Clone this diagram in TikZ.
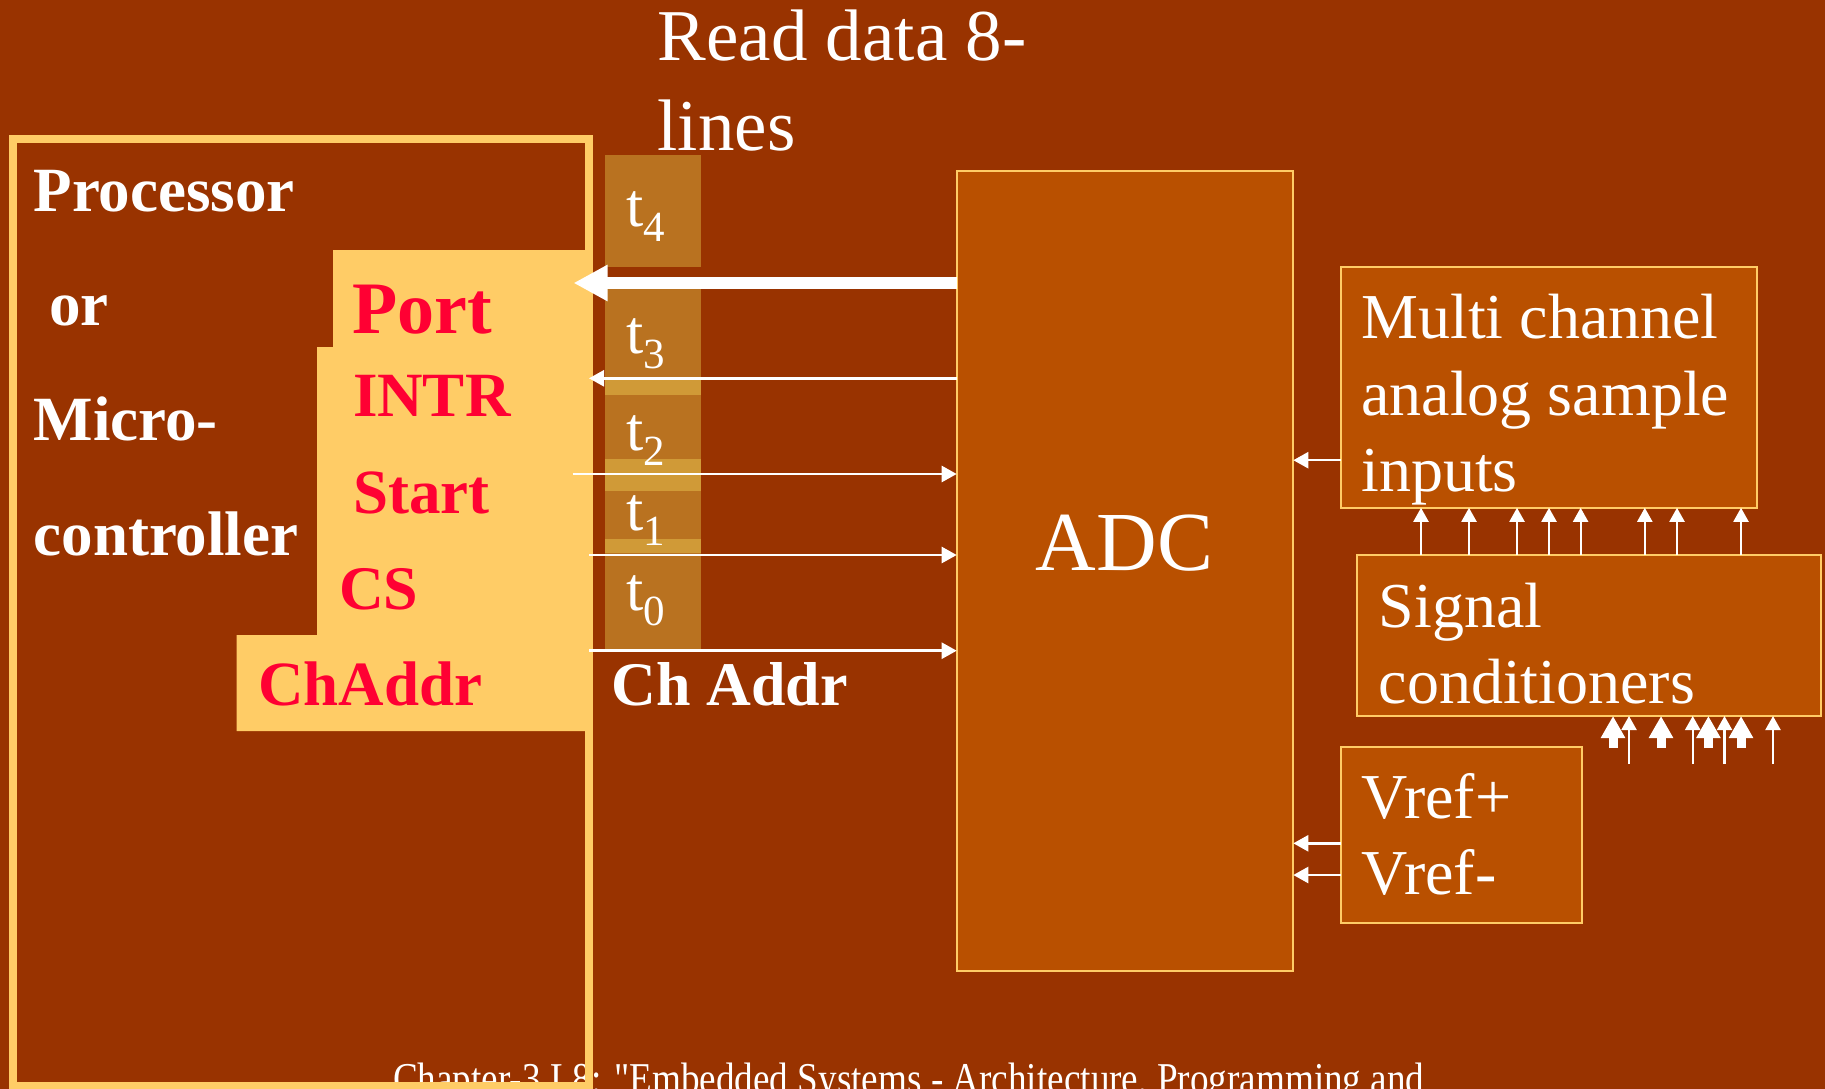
\documentclass[tikz,border=0pt]{standalone}
\usepackage{fontspec}
\setmainfont{Liberation Serif}
\newfontfamily\footfont{Liberation Serif}[Ligatures=TeXOff]
\usetikzlibrary{arrows.meta}
\definecolor{bg}{RGB}{153,51,0}
\definecolor{adcfill}{RGB}{185,80,0}
\definecolor{yel}{RGB}{255,204,102}
\definecolor{strip}{RGB}{185,114,32}
\definecolor{band}{RGB}{208,154,55}
\definecolor{redtxt}{RGB}{255,0,51}
\newcommand{\fsz}[1]{\fontsize{#1}{#1}\selectfont}
\newcommand{\tsub}[1]{{\fsz{62}t\raisebox{-15pt}{\fsz{43}#1}}}
\begin{document}
\begin{tikzpicture}[x=1pt,y=-1pt,
  txt/.style={anchor=base west, inner sep=0pt, outer sep=0pt, text=white},
  redlbl/.style={anchor=base west, inner sep=0pt, outer sep=0pt, text=redtxt},
  box/.style={draw=yel, fill=adcfill, line width=2pt, inner sep=0pt, outer sep=0pt},
  sig/.style={white, line width=2.5pt, -{Triangle[length=15pt,width=16pt]}},
  upsig/.style={white, line width=2.2pt, -{Triangle[length=14pt,width=15pt]}},
  thickup/.style={white, line width=9pt, -{Triangle[length=22pt,width=23pt]}}]
\fill[bg] (0,0) rectangle (1825,1089);
\useasboundingbox (0,0) rectangle (1825,1089);
\clip (0,0) rectangle (1825,1089);

% footer (behind frame)
\node[txt, font=\footfont\fsz{44}] (footer) at (393,1093) {\scalebox{0.845}[1]{Chapter-3 L8: "Embedded Systems - Architecture, Programming and}};

% processor frame
\draw[yel, line width=8pt] (12.7,139) rectangle (589,1086);
\fill[yel] (333,250) -- (589,250) -- (589,731) -- (236.5,731) -- (236.5,635)
  -- (317,635) -- (317,347) -- (333,347) -- cycle;

\node[txt, font=\fsz{63}\bfseries] (proc) at (33.6,211) {Processor};
\node[txt, font=\fsz{63}\bfseries] (or) at (49,325) {or};
\node[txt, font=\fsz{63}\bfseries] (micro) at (33.6,440) {Micro-};
\node[txt, font=\fsz{63}\bfseries] (ctrl) at (33.6,555) {controller};

\node[redlbl, font=\fsz{74}\bfseries] (port) at (352,333) {Port};
\node[redlbl, font=\fsz{63}\bfseries] (intr) at (353,416.5) {INTR};
\node[redlbl, font=\fsz{63}\bfseries] (start) at (353,513) {Start};
\node[redlbl, font=\fsz{62}\bfseries] (cs) at (339,609.5) {CS};
\node[redlbl, font=\fsz{63}\bfseries] (chaddr) at (258,705) {ChAddr};

% time strip
\fill[strip] (605,155) rectangle (701,266.7);
\fill[strip] (605,288.8) rectangle (701,649);
\fill[band] (605,380.4) rectangle (701,394.8);
\fill[band] (605,458.5) rectangle (701,490.5);
\fill[band] (605,538.8) rectangle (701,553.2);
\node[txt] (t4) at (626,226) {\tsub{4}};
\node[txt] (t3) at (626,353.5) {\tsub{3}};
\node[txt] (t2) at (626,450) {\tsub{2}};
\node[txt] (t1) at (626,530.8) {\tsub{1}};
\node[txt] (t0) at (626,610) {\tsub{0}};

% title
\node[txt, font=\fsz{73}] (read1) at (657.6,60.5) {Read data 8-};
\node[txt, font=\fsz{73}] (read2) at (657.6,150) {lines};

% ADC
\node[box, minimum width=336.6pt, minimum height=799.7pt] (adc) at (1125,570.85) {};
\node[anchor=base, inner sep=0pt, text=white, font=\fsz{84}] (adclbl) at (1124.5,570) {ADC};

% Ch Addr label
\node[txt, font=\fsz{62}\bfseries] (chlbl) at (611.7,705) {Ch Addr};

% processor side connectors
\coordinate (portin) at (573.5,283);
\coordinate (intrin) at (589,378.3);
\coordinate (startout) at (572.6,474);
\coordinate (csout) at (589,555);
\coordinate (chout) at (589,650.7);
\draw[white, line width=11.7pt, -{Triangle[length=34pt,width=34pt]}] (adc.west |- portin) -- (portin);
\draw[sig] (adc.west |- intrin) -- (intrin);
\draw[sig] (startout) -- (adc.west |- startout);
\draw[sig] (csout) -- (adc.west |- csout);
\draw[sig] (chout) -- (adc.west |- chout);

% multi channel box
\node[box, minimum width=416.2pt, minimum height=241.1pt] (multi) at (1548.9,387.25) {};
\node[txt, font=\fsz{64}] (m1) at (1361.3,338.7) {Multi channel};
\node[txt, font=\fsz{64}] (m2) at (1361.3,415.7) {analog sample};
\node[txt, font=\fsz{64}] (m3) at (1361.3,491.7) {inputs};
\coordinate (mref) at (0,460.2);
\draw[sig] (multi.west |- mref) -- (adc.east |- mref);

% signal conditioners box
\node[box, minimum width=464.4pt, minimum height=160.7pt] (signal) at (1589.1,635.65) {};
\node[txt, font=\fsz{64}] (s1) at (1378.7,627.3) {Signal};
\node[txt, font=\fsz{64}] (s2) at (1378.7,703.6) {conditioners};
\foreach \x [count=\i] in {1421,1469,1517,1549,1580.6,1644.8,1677,1741} {
  \coordinate (up\i) at (\x,0);
  \draw[upsig] (signal.north -| up\i) -- (multi.south -| up\i);
}

% inputs into signal conditioners
\foreach \x [count=\i] in {1613,1661,1708.4,1741} {
  \coordinate (thk\i) at (\x,748);
  \draw[thickup] (thk\i) -- (signal.south -| thk\i);
}
\foreach \x [count=\i] in {1629,1692.7,1724.5,1773} {
  \coordinate (thn\i) at (\x,764);
  \draw[upsig] (thn\i) -- (signal.south -| thn\i);
}

% Vref box
\node[box, minimum width=241pt, minimum height=176pt] (vref) at (1461.2,834.7) {};
\node[txt, font=\fsz{64}] (v1) at (1361.7,818.3) {Vref+};
\node[txt, font=\fsz{64}] (v2) at (1361.7,894.3) {Vref-};
\coordinate (vp) at (0,843.3);
\coordinate (vm) at (0,875);
\draw[sig] (vref.west |- vp) -- (adc.east |- vp);
\draw[sig] (vref.west |- vm) -- (adc.east |- vm);
\end{tikzpicture}
\end{document}
